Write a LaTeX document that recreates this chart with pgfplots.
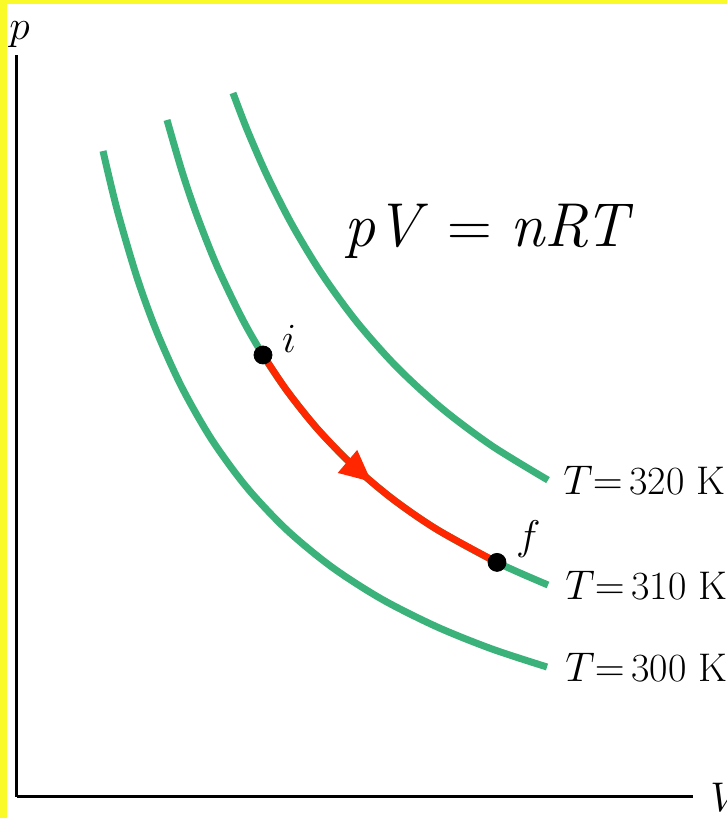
\documentclass[border=0pt]{standalone}
\usepackage{fontspec}
\usepackage{pgfplots}
\pgfplotsset{compat=1.18}
\usetikzlibrary{decorations.markings,arrows.meta}
\definecolor{isogreen}{RGB}{58,178,122}
\definecolor{pathred}{RGB}{255,38,0}
\definecolor{frameyellow}{RGB}{250,250,40}

\begin{document}
\begin{tikzpicture}
% page and frame (1 data unit = 0.5pt, origin at the axis corner)
\useasboundingbox (-8.5pt,-10.5pt) rectangle (355pt,398.5pt);
\fill[white] (-8.5pt,-10.5pt) rectangle (355pt,398.5pt);
\fill[frameyellow] (-8.5pt,-10.5pt) rectangle (-5pt,398.5pt);
\fill[frameyellow] (-8.5pt,396.5pt) rectangle (355pt,398.5pt);
\begin{axis}[
  x=0.5pt, y=0.5pt,
  xmin=0, xmax=676, ymin=0, ymax=742,
  axis lines=left,
  axis line style={-, line width=1.5pt, black},
  xtick=\empty, ytick=\empty,
  clip=false,
]
% isotherm T = 300 K
\addplot[isogreen, line width=3.5pt, smooth] coordinates {
  (86,646.0) (100,587.7) (120,519.5) (140,464.6) (165,409.4) (195,357.0)
  (230,309.3) (270,266.9) (315,229.8) (365,197.7) (420,170.1) (475,148.0) (530,130.0)
};
% isotherm T = 310 K
\addplot[isogreen, line width=3.5pt, smooth] coordinates {
  (150,677.0) (165,625.6) (180,581.3) (200,530.9) (225,478.7) (246,442.0)
  (270,406.2) (300,368.6) (335,332.4) (375,298.5) (420,267.5) (480,234.6) (531,212.0)
};
% isotherm T = 320 K
\addplot[isogreen, line width=3.5pt, smooth] coordinates {
  (216,704.0) (230,667.5) (250,621.6) (275,572.4) (305,522.8) (340,474.8)
  (380,429.8) (425,388.5) (475,351.1) (531,316.9)
};
% process i -> f along the 310 K isotherm
\addplot[pathred, line width=3.4pt, smooth,
  postaction={decorate},
  decoration={markings, mark=at position 0.53 with {\arrow{Triangle[length=16pt,width=14pt]}}}]
  coordinates {
  (246,442.0) (270,406.2) (300,368.6) (335,332.4) (375,298.5) (420,267.5) (480,234.6)
};
% end states
\addplot[only marks, mark=*, mark size=4.5pt, black] coordinates {(246,442.0) (480,234.6)};

\node[anchor=base west, font=\fontsize{20}{22}\selectfont] at (axis cs:258,444) {$i$};
\node[anchor=base west, font=\fontsize{20}{22}\selectfont] at (axis cs:492,247) {$f$};
\node[anchor=base west, font=\fontsize{20}{22}\selectfont, inner sep=0pt] at (axis cs:-8,757) {$p$};
\node[anchor=base west, font=\fontsize{20}{22}\selectfont, inner sep=0pt] at (axis cs:693,-15) {$V$};

\node[anchor=base west, inner sep=0pt, font=\fontsize{20}{22}\selectfont] at (axis cs:546,302) {$T{=}\,$320~K};
\node[anchor=base west, inner sep=0pt, font=\fontsize{20}{22}\selectfont] at (axis cs:548,197) {$T{=}\,$310~K};
\node[anchor=base west, inner sep=0pt, font=\fontsize{20}{22}\selectfont] at (axis cs:548,115) {$T{=}\,$300~K};

% the equation, set in the scalable text italic
\node[anchor=base west, inner sep=0pt, font=\fontsize{31}{34}\selectfont] at (axis cs:327,550) {\textit{pV} = \textit{nRT}};
\end{axis}
\end{tikzpicture}
\end{document}
